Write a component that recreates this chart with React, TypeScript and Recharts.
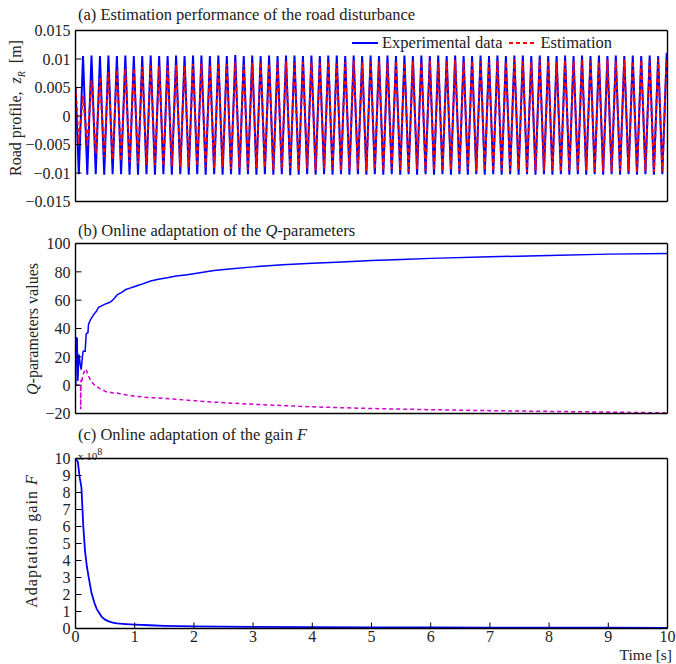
import { LineChart, Line, XAxis, YAxis } from "recharts";

const SERIF = '"Liberation Serif", "Times New Roman", serif';
const INK = "#222";

const timeTicks = [0, 1, 2, 3, 4, 5, 6, 7, 8, 9, 10];
const roadTicks = [-0.015, -0.01, -0.005, 0, 0.005, 0.01, 0.015];
const qTicks = [-20, 0, 20, 40, 60, 80, 100];
const gainTicks = [0, 1, 2, 3, 4, 5, 6, 7, 8, 9, 10];

// (a) road profile: extrema of the measured / estimated signal
const roadTime = [
  0,
  0.056, 0.127, 0.199, 0.27, 0.342, 0.413, 0.485, 0.556, 0.627, 0.699, 0.77, 0.842, 0.913, 0.985,
  1.056, 1.127, 1.199, 1.27, 1.342, 1.413, 1.485, 1.556, 1.627, 1.699, 1.77, 1.842, 1.913, 1.985,
  2.056, 2.127, 2.199, 2.27, 2.342, 2.413, 2.485, 2.556, 2.627, 2.699, 2.77, 2.842, 2.913, 2.985,
  3.056, 3.127, 3.199, 3.27, 3.342, 3.413, 3.485, 3.556, 3.627, 3.699, 3.77, 3.842, 3.913, 3.985,
  4.056, 4.127, 4.199, 4.27, 4.342, 4.413, 4.485, 4.556, 4.627, 4.699, 4.77, 4.842, 4.913, 4.985,
  5.056, 5.127, 5.199, 5.27, 5.342, 5.413, 5.485, 5.556, 5.627, 5.699, 5.77, 5.842, 5.913, 5.985,
  6.056, 6.127, 6.199, 6.27, 6.342, 6.413, 6.485, 6.556, 6.627, 6.699, 6.77, 6.842, 6.913, 6.985,
  7.056, 7.127, 7.199, 7.27, 7.342, 7.413, 7.485, 7.556, 7.627, 7.699, 7.77, 7.842, 7.913, 7.985,
  8.056, 8.127, 8.199, 8.27, 8.342, 8.413, 8.485, 8.556, 8.627, 8.699, 8.77, 8.842, 8.913, 8.985,
  9.056, 9.127, 9.199, 9.27, 9.342, 9.413, 9.485, 9.556, 9.627, 9.699, 9.77, 9.842, 9.913, 9.985,
  10,
];

const roadMeasured = [
  0.005,
  -0.0102, 0.0105, -0.0103, 0.0106, -0.0102, 0.0105, -0.0103, 0.0106, -0.0102, 0.0105, -0.0102, 0.0106, -0.0103, 0.0105,
  -0.0103, 0.0105, -0.0102, 0.0106, -0.0103, 0.0105, -0.0102, 0.0105, -0.0103, 0.0106, -0.0102, 0.0105, -0.0103, 0.0106,
  -0.0102, 0.0106, -0.0103, 0.0105, -0.0102, 0.0106, -0.0103, 0.0105, -0.0102, 0.0107, -0.0103, 0.0105, -0.0102, 0.0106,
  -0.0103, 0.0105, -0.0102, 0.0106, -0.0103, 0.0105, -0.0102, 0.0106, -0.0104, 0.0106, -0.0103, 0.0105, -0.0102, 0.0106,
  -0.0103, 0.0105, -0.0102, 0.0106, -0.0103, 0.0106, -0.0102, 0.0105, -0.0103, 0.0106, -0.0102, 0.0105, -0.0103, 0.0106,
  -0.0102, 0.0105, -0.0103, 0.0106, -0.0102, 0.0105, -0.0103, 0.0106, -0.0102, 0.0105, -0.0103, 0.0106, -0.0102, 0.0105,
  -0.0103, 0.0106, -0.0102, 0.0105, -0.0103, 0.0106, -0.0102, 0.0105, -0.0103, 0.0105, -0.0102, 0.0106, -0.0103, 0.0105,
  -0.0102, 0.0106, -0.0103, 0.0105, -0.0102, 0.0106, -0.0103, 0.0106, -0.0102, 0.0105, -0.0103, 0.0106, -0.0102, 0.0105,
  -0.0103, 0.0105, -0.0102, 0.0106, -0.0103, 0.0105, -0.0102, 0.0106, -0.0103, 0.0105, -0.0102, 0.0106, -0.0103, 0.0105,
  -0.0102, 0.0106, -0.0103, 0.0105, -0.0102, 0.0106, -0.0103, 0.0105, -0.0102, 0.0106, -0.0103, 0.0105, -0.0102, 0.0106,
  0.0103,
];

const roadEstimated = [
  0.0052,
  -0.0048, 0.0036, -0.0052, 0.0062, -0.0066, 0.0068, -0.0072, 0.0077, -0.0076, 0.0081, -0.0079, 0.0083, -0.0081, 0.0084,
  -0.0083, 0.0086, -0.0085, 0.0088, -0.0086, 0.0087, -0.0088, 0.0089, -0.0087, 0.009, -0.0089, 0.0088, -0.009, 0.0091,
  -0.0088, 0.0092, -0.009, 0.0089, -0.0092, 0.0093, -0.0089, 0.0091, -0.0093, 0.0094, -0.0091, 0.009, -0.0094, 0.0093,
  -0.0092, 0.0095, -0.009, 0.0092, -0.0095, 0.0094, -0.0093, 0.0096, -0.0091, 0.0093, -0.0096, 0.0095, -0.0092, 0.0094,
  -0.0095, 0.0093, -0.0092, 0.0096, -0.0094, 0.0092, -0.0096, 0.0095, -0.0093, 0.0097, -0.0094, 0.0094, -0.0097, 0.0096,
  -0.0094, 0.0095, -0.0096, 0.0093, -0.0093, 0.0097, -0.0095, 0.0094, -0.0097, 0.0096, -0.0093, 0.0095, -0.0096, 0.0097,
  -0.0095, 0.0094, -0.0097, 0.0096, -0.0094, 0.0098, -0.0096, 0.0095, -0.0093, 0.0097, -0.0097, 0.0096, -0.0095, 0.0094,
  -0.0097, 0.0097, -0.0095, 0.0095, -0.0096, 0.0099, -0.0094, 0.0096, -0.0098, 0.0095, -0.0096, 0.0098, -0.0095, 0.0097,
  -0.0096, 0.0095, -0.0098, 0.0098, -0.0095, 0.0096, -0.0097, 0.0099, -0.0096, 0.0097, -0.0098, 0.0095, -0.0097, 0.0099,
  -0.0098, 0.0097, -0.0096, 0.0099, -0.0097, 0.0096, -0.0099, 0.0098, -0.0096, 0.0097, -0.0098, 0.0099, -0.0097, 0.0098,
  0.0093,
];

// (b) Q-parameters
const qTimeA = [
  0, 0.006, 0.011, 0.028, 0.039, 0.047, 0.056, 0.068, 0.079, 0.096, 0.108, 0.118, 0.13, 0.14, 0.163, 0.172,
  0.18, 0.2, 0.21, 0.22, 0.24, 0.25, 0.28, 0.31, 0.35, 0.39, 0.44, 0.49, 0.55, 0.6, 0.65, 0.71, 0.78, 0.85,
  0.92, 0.99, 1.1, 1.27, 1.4, 1.55, 1.7, 1.89, 2.1, 2.34, 2.6, 3, 3.5, 4, 4.5, 5, 5.5, 6, 7, 8, 9, 10,
];
const qValueA = [
  0, 0, 33.6, 33, 3, 10, 21.8, 19, 14.8, 11, 16, 20.7, 24, 24, 24, 30,
  36, 37, 37, 43, 45, 46, 48, 50, 52, 55, 56, 57, 58, 59, 61, 64, 65.5, 67.5,
  68.5, 69.5, 71, 73.5, 74.8, 75.8, 77, 78, 79.3, 81, 82, 83.5, 85, 86, 87, 88, 88.7, 89.5, 90.6, 91.6, 92.5, 93,
];

const qTimeB = [
  0, 0.085, 0.088, 0.094, 0.1, 0.11, 0.12, 0.15, 0.18, 0.21, 0.25, 0.3, 0.36, 0.41, 0.47, 0.52, 0.58, 0.63,
  0.7, 0.75, 0.85, 1.0, 1.15, 1.3, 1.58, 1.89, 2.35, 3, 3.5, 4, 4.5, 5, 6, 7, 8, 9, 10,
];
const qValueB = [
  0, 0, -17, 4, 2, 3, 7, 9.5, 11.5, 7, 4, 1, -1, -2.4, -3.6, -4.7, -5, -5.5,
  -5.5, -6, -6.8, -7.8, -8.4, -8.8, -9.6, -10.6, -12, -13.5, -14.4, -15.3, -15.9, -16.5, -17.3, -18, -18.5, -19, -19.6,
];

// (c) adaptation gain F, in units of 1e8
const gainTime = [
  0, 0.04, 0.07, 0.1, 0.13, 0.16, 0.19, 0.22, 0.27, 0.32, 0.36, 0.44, 0.5, 0.56, 0.63, 0.7, 0.85, 1,
  1.25, 1.5, 2, 2.5, 3, 4, 5, 6, 7, 8, 9, 10,
];
const gainValue = [
  10, 9.8, 8.9, 8.3, 6.1, 4.6, 3.7, 3.06, 2.1, 1.5, 1.14, 0.7, 0.52, 0.42, 0.34, 0.3, 0.26, 0.23,
  0.19, 0.16, 0.13, 0.11, 0.1, 0.08, 0.07, 0.06, 0.055, 0.05, 0.045, 0.04,
];

const roadRows = roadTime.map((t, i) => ({ t, measured: roadMeasured[i], estimated: roadEstimated[i] }));
const qRowsA = qTimeA.map((t, i) => ({ t, q: qValueA[i] }));
const qRowsB = qTimeB.map((t, i) => ({ t, q: qValueB[i] }));
const gainRows = gainTime.map((t, i) => ({ t, f: gainValue[i] }));

const minus = (v: number) => (v < 0 ? "\u2212" + String(-v) : String(v));

const tickFont = { fontSize: 16, fontFamily: SERIF, fill: INK };

// box frame: four axes with inward ticks (matlab style)
function frame(yDomain: number[], yTicks: number[], showX: boolean) {
  const common = {
    stroke: "#000",
    strokeWidth: 1.4,
    axisLine: true,
    tickLine: { stroke: "#000", strokeWidth: 1 },
    tickSize: -6,
    interval: 0 as const,
    allowDataOverflow: true,
    type: "number" as const,
  };
  return [
    <XAxis key="xb" {...common} xAxisId="b" dataKey="t" domain={[0, 10]} ticks={timeTicks} height={1} tickMargin={8.5} tick={showX ? tickFont : false} />,
    <XAxis key="xt" {...common} xAxisId="t" orientation="top" domain={[0, 10]} ticks={timeTicks} height={1} tick={false} />,
    <YAxis key="yl" {...common} yAxisId="l" domain={yDomain} ticks={yTicks} width={75.5} tickMargin={11} tick={tickFont} tickFormatter={minus} />,
    <YAxis key="yr" {...common} yAxisId="r" orientation="right" domain={yDomain} ticks={yTicks} width={1} tick={false} />,
  ];
}

const abs = (left: number, top: number): React.CSSProperties => ({ position: "absolute", left, top });

function VLabel({ cx, cy, w, children, spacing = 0 }: { cx: number; cy: number; w: number; children: React.ReactNode; spacing?: number }) {
  return (
    <div
      style={{
        position: "absolute",
        left: cx - w / 2,
        top: cy - 10,
        width: w,
        height: 20,
        lineHeight: "20px",
        textAlign: "center",
        transform: "rotate(-90deg)",
        fontSize: 16,
        color: INK,
        letterSpacing: spacing,
        whiteSpace: "nowrap",
      }}
    >
      {children}
    </div>
  );
}

export default function App() {
  return (
    <div style={{ position: "absolute", left: 0, top: 0, width: 676, height: 664, background: "#fff", fontFamily: SERIF, color: INK, overflow: "hidden" }}>
      {/* (a) */}
      <div style={abs(0, 0)}>
        <LineChart width={676} height={215} data={roadRows} margin={{ top: 29.5, right: 7.5, bottom: 12.5, left: 0 }}>
          {frame([-0.015, 0.015], roadTicks, false)}
          <Line xAxisId="b" yAxisId="l" type="linear" dataKey="measured" stroke="#0000ff" strokeWidth={2} dot={false} isAnimationActive={false} />
          <Line xAxisId="b" yAxisId="l" type="linear" dataKey="estimated" stroke="#ff0000" strokeWidth={2} strokeDasharray="4 3" dot={false} isAnimationActive={false} />
        </LineChart>
      </div>
      <div style={{ ...abs(78, 6), fontSize: 16.5, lineHeight: "18px", whiteSpace: "nowrap" }}>
        (a) Estimation performance of the road disturbance
      </div>
      <div style={{ ...abs(352, 34), display: "flex", alignItems: "center", fontSize: 16.5, lineHeight: "18px", whiteSpace: "nowrap" }}>
        <svg width={26} height={6}>
          <line x1={0} y1={3} x2={26} y2={3} stroke="#0000ff" strokeWidth={2} />
        </svg>
        <span style={{ marginLeft: 4 }}>Experimental data</span>
        <svg width={28} height={6} style={{ marginLeft: 6 }}>
          <line x1={0} y1={3} x2={28} y2={3} stroke="#ff0000" strokeWidth={2} strokeDasharray="4 3" />
        </svg>
        <span style={{ marginLeft: 4 }}>Estimation</span>
      </div>
      <VLabel cx={16} cy={108} w={180}>
        Road profile,&nbsp; <i>z</i>
        <sub style={{ fontSize: 10, fontStyle: "italic" }}>R</sub>&nbsp; [m]
      </VLabel>

      {/* (b) */}
      <div style={abs(0, 215)}>
        <LineChart width={676} height={215} margin={{ top: 27.5, right: 7.5, bottom: 15.5, left: 0 }}>
          {frame([-20, 100], qTicks, false)}
          <Line data={qRowsA} xAxisId="b" yAxisId="l" type="linear" dataKey="q" stroke="#0000ff" strokeWidth={1.5} dot={false} isAnimationActive={false} />
          <Line data={qRowsB} xAxisId="b" yAxisId="l" type="linear" dataKey="q" stroke="#cc00cc" strokeWidth={1.5} strokeDasharray="4 3" dot={false} isAnimationActive={false} />
        </LineChart>
      </div>
      <div style={{ ...abs(78, 222), fontSize: 16.5, lineHeight: "18px", whiteSpace: "nowrap" }}>
        (b) Online adaptation of the <i>Q</i>-parameters
      </div>
      <VLabel cx={33} cy={329} w={160}>
        <i>Q</i>-parameters values
      </VLabel>

      {/* (c) */}
      <div style={abs(0, 430)}>
        <LineChart width={676} height={234} data={gainRows} margin={{ top: 27.5, right: 7.5, bottom: 34.5, left: 0 }}>
          {frame([0, 10], gainTicks, true)}
          <Line xAxisId="b" yAxisId="l" type="linear" dataKey="f" stroke="#0000ff" strokeWidth={1.8} dot={false} isAnimationActive={false} />
        </LineChart>
      </div>
      <div style={{ ...abs(78, 426), fontSize: 16.5, lineHeight: "18px", whiteSpace: "nowrap" }}>
        (c) Online adaptation of the gain <i>F</i>
      </div>
      <div style={{ ...abs(78, 446), fontSize: 11, lineHeight: "12px", whiteSpace: "nowrap" }}>
        x 10<sup style={{ fontSize: 10 }}>8</sup>
      </div>
      <VLabel cx={32} cy={541} w={150} spacing={1}>
        Adaptation gain <i>F</i>
      </VLabel>
      <div style={{ ...abs(559, 647), width: 113, textAlign: "right", fontSize: 15.5, lineHeight: "16px" }}>
        Time [s]
      </div>
    </div>
  );
}
